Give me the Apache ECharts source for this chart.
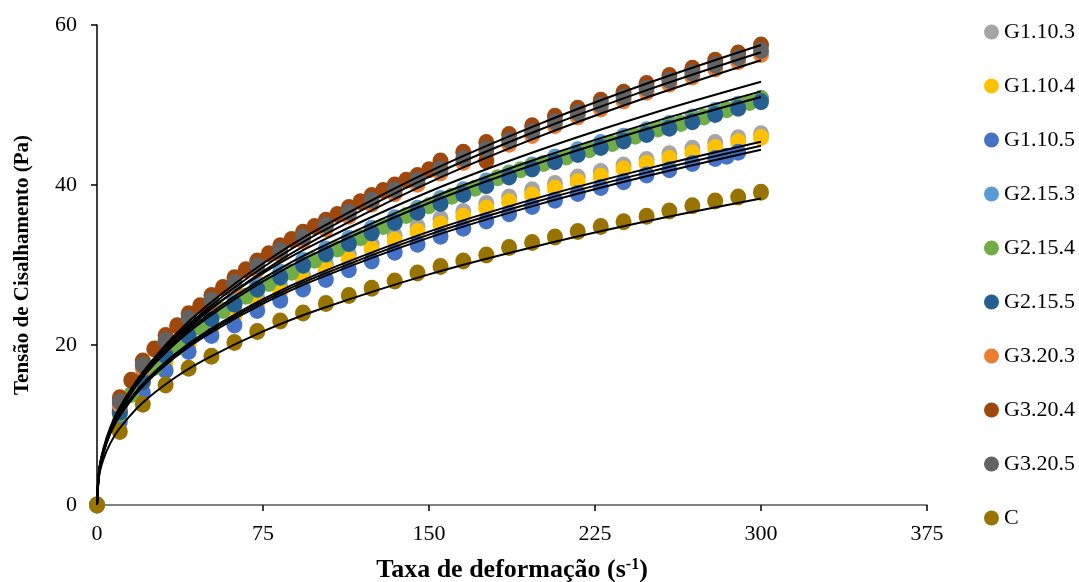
<!DOCTYPE html>
<html><head><meta charset="utf-8">
<script src="https://cdn.jsdelivr.net/npm/echarts@6/dist/echarts.min.js"></script>
<style>html,body{margin:0;padding:0;background:#fff}#c{width:1079px;height:582px}</style>
</head><body><div id="c"></div><script>
// ---- data ----
const seriesNames = ['G1.10.3','G1.10.4','G1.10.5','G2.15.3','G2.15.4','G2.15.5','G3.20.3','G3.20.4','G3.20.5','C'];
const seriesColors = ['#A5A5A5','#FFC000','#4472C4','#5B9BD5','#70AD47','#255E91','#ED7D31','#9E480E','#636363','#997300'];
const xTicks = [0, 75, 150, 225, 300, 375];
const yTicks = [0, 20, 40, 60];

const rate = [0,10.3,20.7,31.0,41.4,51.7,62.1,72.4,82.8,93.1,103.4,113.8,124.1,134.5,144.8,155.2,165.5,175.9,186.2,196.6,206.9,217.2,227.6,237.9,248.3,258.6,269.0,279.3,289.7,300];
const rateNoZero = [10.3,20.7,31.0,41.4,51.7,62.1,72.4,82.8,93.1,103.4,113.8,124.1,134.5,144.8,155.2,165.5,175.9,186.2,196.6,206.9,217.2,227.6,237.9,248.3,258.6,269.0,279.3,289.7,300];
const rateG1105 = [0,10.3,20.7,31.0,41.4,51.7,62.1,72.4,82.8,93.1,103.4,113.8,124.1,134.5,144.8,155.2,165.5,175.9,186.2,196.6,206.9,217.2,227.6,237.9,248.3,258.6,269.0,279.3,284.5,289.7];
const rateG2154 = [10.3,15.5,20.7,25.9,31.0,36.2,41.4,46.6,51.7,56.9,62.1,67.2,72.4,77.6,82.8,87.9,93.1,98.3,103.4,108.6,113.8,119.0,124.1,129.3,134.5,139.7,144.8,150.0,155.2,160.3,165.5,170.7,175.9,181.0,186.2,191.4,196.6,201.7,206.9,212.1,217.2,222.4,227.6,232.8,237.9,243.1,248.3,253.4,258.6,263.8,269.0,274.1,279.3,284.5,289.7,294.8,300];
const rateG3204 = [10.3,15.5,20.7,25.9,31.0,36.2,41.4,46.6,51.7,56.9,62.1,67.2,72.4,77.6,82.8,87.9,93.1,98.3,103.4,108.6,113.8,119.0,124.1,129.3,134.5,139.7,144.8,150.0,155.2,165.5,175.9,175.9,186.2,196.6,206.9,217.2,227.6,237.9,248.3,258.6,269.0,279.3,289.7,300];

const g1103 = [0,11.8,15.6,18.3,20.6,22.6,24.3,25.9,27.4,28.8,30.1,31.4,32.6,33.7,34.8,35.8,36.7,37.7,38.5,39.4,40.2,41.0,41.7,42.5,43.2,43.9,44.6,45.3,45.9,46.4];
const g1104 = [0,11.5,15.2,17.8,20.0,22.0,23.7,25.2,26.7,28.2,29.5,30.7,32.0,33.1,34.2,35.1,36.1,37.1,37.9,38.75,39.6,40.4,41.1,42.0,42.7,43.3,44.0,44.7,45.4,45.95];
const g1105 = [0,10.4,14.0,16.8,19.2,21.2,22.5,24.3,25.6,27.0,28.2,29.4,30.5,31.6,32.6,33.6,34.6,35.5,36.4,37.3,38.1,38.95,39.7,40.4,41.25,41.9,42.7,43.3,43.6,44.1];
const g2153 = [12.0,15.9,19.2,21.7,23.9,25.8,27.6,29.1,30.6,32.0,33.3,34.6,35.9,37.1,38.3,39.4,40.5,41.5,42.5,43.5,44.4,45.3,46.1,46.9,47.7,48.5,49.3,50.1,50.8];
const g2154 = [11.4,13.8,15.5,17.2,18.5,19.7,21.0,22.2,23.2,24.3,25.2,26.1,26.9,27.7,28.4,29.1,29.9,30.6,31.3,32.0,32.7,33.4,34.1,34.8,35.5,36.2,36.8,37.4,38.0,38.6,39.1,39.6,40.2,40.9,41.4,41.9,42.3,42.7,43.1,43.5,44.0,44.4,44.8,45.2,45.6,46.1,46.5,47.0,47.3,47.7,48.1,48.5,48.9,49.4,49.8,50.3,50.8];
const g2155 = [11.6,15.4,18.7,21.1,23.3,25.1,27.0,28.5,30.0,31.4,32.7,34.0,35.3,36.6,37.7,38.8,39.9,41.0,42.0,42.9,43.8,44.7,45.5,46.3,47.1,47.9,48.8,49.6,50.4];
const g3203 = [12.5,17.1,20.2,22.9,25.2,27.4,29.4,31.3,33.0,34.5,36.1,37.6,38.9,40.1,41.5,42.8,44.0,45.1,46.2,47.4,48.5,49.5,50.5,51.6,52.6,53.5,54.5,55.4,56.3];
const g3204 = [13.4,15.6,18.0,19.5,21.2,22.4,23.9,24.9,26.2,27.2,28.4,29.4,30.5,31.4,32.4,33.2,34.1,34.8,35.6,36.3,37.2,37.9,38.7,39.3,40.0,40.6,41.2,41.9,43.0,44.1,45.3,43.0,46.3,47.4,48.6,49.6,50.6,51.6,52.7,53.7,54.6,55.6,56.5,57.5];
const g3205 = [12.9,17.5,20.6,23.3,25.6,27.8,29.9,31.8,33.5,35.0,36.6,38.1,39.4,40.6,42.0,43.3,44.5,45.6,46.7,47.9,49.0,50.0,51.0,52.1,53.1,54.0,55.0,55.9,56.8];
const cCtrl = [0,9.2,12.6,15.0,17.1,18.6,20.3,21.7,23.0,24.0,25.2,26.2,27.1,28.0,29.0,29.8,30.5,31.25,32.2,32.8,33.5,34.2,34.8,35.4,36.1,36.75,37.4,38.0,38.5,39.1];

// fitted trend curves
const fitRate = [0,1,3,6,10,20,35,50,75,100,150,200,250,300];
const fitA1 = [0,4.05,6.76,9.33,11.82,16.32,21.18,25.0,30.19,34.49,41.67,47.64,52.84,57.5];
const fitA2 = [0,3.99,6.65,9.18,11.64,16.07,20.85,24.60,29.72,33.95,41.02,46.90,52.01,56.6];
const fitA3 = [0,3.92,6.53,9.02,11.43,15.78,20.48,24.17,29.20,33.35,40.29,46.07,51.09,55.6];
const fitB1 = [0,4.45,7.17,9.69,12.09,16.34,20.83,24.30,28.99,32.83,39.16,44.37,48.88,52.9];
const fitB2 = [0,4.35,7.01,9.47,11.82,15.96,20.35,23.75,28.33,32.09,38.27,43.37,47.77,51.7];
const fitB3 = [0,4.29,6.91,9.34,11.66,15.75,20.08,23.42,27.95,31.65,37.75,42.78,47.12,51.0];
const fitC1 = [0,4.38,6.87,9.13,11.26,14.96,18.81,21.77,25.73,28.93,34.17,38.45,42.14,45.4];
const fitC2 = [0,4.33,6.80,9.03,11.14,14.80,18.61,21.53,25.44,28.61,33.80,38.03,41.67,44.9];
const fitC3 = [0,4.28,6.72,8.93,11.02,14.63,18.40,21.29,25.16,28.30,33.42,37.61,41.21,44.4];
const fitD1 = [0,3.69,5.80,7.70,9.50,12.62,15.87,18.36,21.70,24.41,28.83,32.44,35.55,38.3];

// ---- build ----
const zip = (xs, ys) => xs.map((x, i) => [x, ys[i]]);
const pointSets = [
  [rate, g1103], [rate, g1104], [rateG1105, g1105], [rateNoZero, g2153], [rateG2154, g2154],
  [rateNoZero, g2155], [rateNoZero, g3203], [rateG3204, g3204], [rateNoZero, g3205], [rate, cCtrl]
];
const fits = [fitA1, fitA2, fitA3, fitB1, fitB2, fitB3, fitC1, fitC2, fitC3, fitD1];
const FONT = '"Liberation Serif","Times New Roman",serif';

const series = [];
pointSets.forEach((p, i) => {
  series.push({
    name: seriesNames[i], type: 'scatter', data: zip(p[0], p[1]),
    symbol: 'circle', symbolSize: [16, 17], itemStyle: { color: seriesColors[i], opacity: 1 },
    z: 2, silent: true
  });
});
fits.forEach((f) => {
  series.push({
    type: 'line', data: zip(fitRate, f), showSymbol: false, smooth: 0.35,
    lineStyle: { color: '#000', width: 2 }, z: 4, silent: true
  });
});

const chart = echarts.init(document.getElementById('c'), null, { renderer: 'canvas' });
chart.setOption({
  animation: false,
  backgroundColor: '#fff',
  grid: { left: 97, right: 152, top: 25, bottom: 77, containLabel: false, outerBoundsMode: 'none' },
  legend: {
    data: seriesNames.map((n, i) => ({ name: n, icon: 'circle', itemStyle: { color: seriesColors[i] } })),
    orient: 'vertical', left: 979, top: 16, itemWidth: 15, itemHeight: 15, itemGap: 32, itemTextGap: 5,
    textStyle: { fontFamily: FONT, fontSize: 22, color: '#000' }
  },
  xAxis: {
    type: 'value', min: xTicks[0], max: xTicks[xTicks.length - 1], interval: 75,
    name: '{a|Taxa de deformação (s}{b|-1}{a|)}', nameLocation: 'middle', nameGap: 52,
    nameTextStyle: { rich: {
      a: { fontFamily: FONT, fontSize: 26, fontWeight: 'bold', color: '#000' },
      b: { fontFamily: FONT, fontSize: 16, fontWeight: 'bold', color: '#000', padding: [0, 0, 11, 0] }
    } },
    axisLine: { show: true, lineStyle: { color: '#595959', width: 1.5 } },
    axisTick: { show: true, length: 6, lineStyle: { color: '#000', width: 1.5 } },
    axisLabel: { fontFamily: FONT, fontSize: 22, color: '#000', margin: 18 },
    splitLine: { show: false }
  },
  yAxis: {
    type: 'value', min: yTicks[0], max: yTicks[yTicks.length - 1], interval: 20,
    name: 'Tensão de Cisalhamento (Pa)', nameLocation: 'middle', nameGap: 64,
    nameTextStyle: { fontFamily: FONT, fontSize: 21, fontWeight: 'bold', color: '#000' },
    axisLine: { show: true, lineStyle: { color: '#000', width: 1.5 } },
    axisTick: { show: true, length: 6, lineStyle: { color: '#000', width: 1.5 } },
    axisLabel: { fontFamily: FONT, fontSize: 22, color: '#000', margin: 20 },
    splitLine: { show: false }
  },
  series: series
});
</script></body></html>
